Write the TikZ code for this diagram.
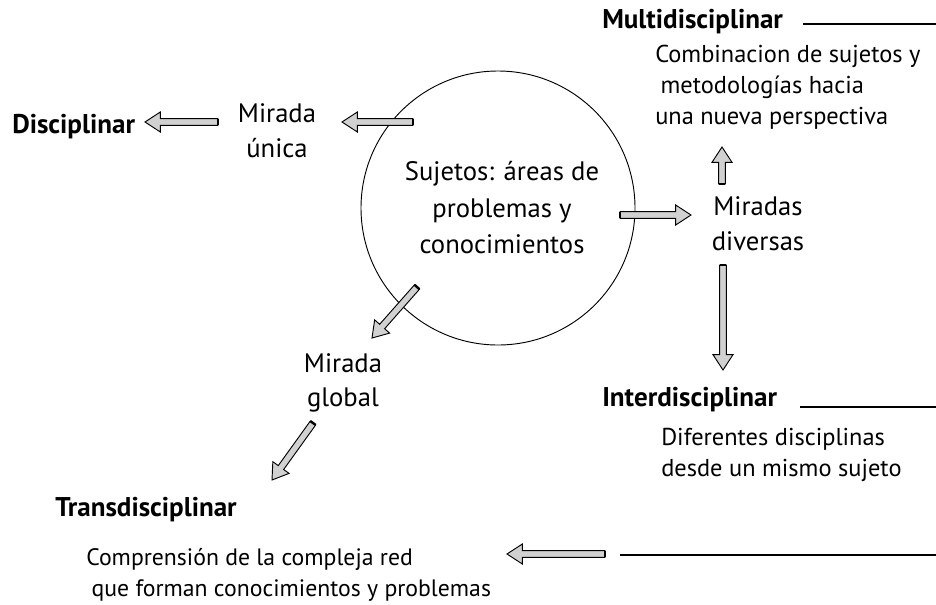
\documentclass[tikz,border=0pt]{standalone}
\usepackage{fontspec}
\setmainfont{PT Sans}
\usetikzlibrary{calc}
\definecolor{arrowgray}{gray}{0.82}
\tikzset{
  main/.style={font=\fontsize{20}{26}\selectfont, align=center, inner sep=0pt},
  desc/.style={font=\fontsize{18.3}{23.2}\selectfont, align=left, inner sep=0pt, anchor=west},
  head/.style={font=\bfseries\fontsize{20.3}{22}\selectfont, inner sep=0pt, anchor=west},
  rule/.style={line width=1pt},
}
\newcommand\fatarrow[2]{%
  \path ($(#2)!11.5pt!(#1)$) coordinate (fa-b);
  \path ($(fa-b)!7.5pt!90:(#2)$) coordinate (fa-l)
        ($(fa-b)!7.5pt!-90:(#2)$) coordinate (fa-r)
        ($(fa-b)!2.5pt!90:(#2)$) coordinate (fa-l2)
        ($(fa-b)!2.5pt!-90:(#2)$) coordinate (fa-r2)
        ($(#1)!2.5pt!90:(#2)$) coordinate (fa-sl)
        ($(#1)!2.5pt!-90:(#2)$) coordinate (fa-sr);
  \draw[fill=arrowgray, line width=0.7pt, line join=miter]
    (fa-sl) -- (fa-l2) -- (fa-l) -- (#2) -- (fa-r) -- (fa-r2) -- (fa-sr) -- cycle;
  \draw[line width=1.8pt] (fa-sl) -- (fa-sr);
}
\begin{document}
\begin{tikzpicture}[x=0.75pt, y=-0.75pt]
\useasboundingbox (0,0) rectangle (936,604);
\fill[white] (0,0) rectangle (936,604);

% circle and central text
\node[circle, draw, line width=0.7pt, minimum size=205.5pt, inner sep=0pt] (circ) at (498,208) {};
\node[main, font=\fontsize{20}{27.4}\selectfont] (suj) at (502,208) {Sujetos: áreas de\\problemas y\\conocimientos};

% left branch
\node[main] (unica) at (277,131) {Mirada\\única};
\node[head] (disc) at (12,127) {Disciplinar};
\coordinate (a1s) at (413,122); \coordinate (a1e) at (342,122);
\coordinate (a2s) at (218,122); \coordinate (a2e) at (145,122);
\fatarrow{a1s}{a1e}
\fatarrow{a2s}{a2e}

% right branch
\node[main] (div) at (758,224) {Miradas\\diversas};
\coordinate (a3s) at (620,215); \coordinate (a3e) at (691,215);
\fatarrow{a3s}{a3e}

\node[head] (multi) at (602,22) {Multidisciplinar};
\coordinate (m1) at (803,24); \coordinate (m2) at (936,24);
\draw[rule] (m1) -- (m2);
\node[desc] (multitxt) at (655,87) {Combinacion de sujetos y\\\hspace{4pt}metodologías hacia\\una nueva perspectiva};
\coordinate (a4s) at (722,184); \coordinate (a4e) at (722,147);
\fatarrow{a4s}{a4e}

\coordinate (a5s) at (723,265); \coordinate (a5e) at (723,370);
\fatarrow{a5s}{a5e}
\node[head] (inter) at (602,400) {Interdisciplinar};
\coordinate (i1) at (800,407); \coordinate (i2) at (936,407);
\draw[rule] (i1) -- (i2);
\node[desc] (intertxt) at (661,455) {Diferentes disciplinas\\desde un mismo sujeto};

% lower branch
\coordinate (a6s) at (417,287); \coordinate (a6e) at (372,338);
\fatarrow{a6s}{a6e}
\node[main] (global) at (343,383) {Mirada\\global};
\coordinate (a7s) at (313,423); \coordinate (a7e) at (272,480);
\fatarrow{a7s}{a7e}
\node[head] (trans) at (55,510) {Transdisciplinar};
\node[desc, font=\fontsize{17.8}{23.2}\selectfont] (transtxt) at (86,575) {Comprensión de la compleja red\\\hspace{4pt}que forman conocimientos y problemas};
\coordinate (a8s) at (605,554); \coordinate (a8e) at (507,554);
\fatarrow{a8s}{a8e}
\coordinate (t1) at (620,555); \coordinate (t2) at (936,555);
\draw[rule] (t1) -- (t2);
\end{tikzpicture}
\end{document}
